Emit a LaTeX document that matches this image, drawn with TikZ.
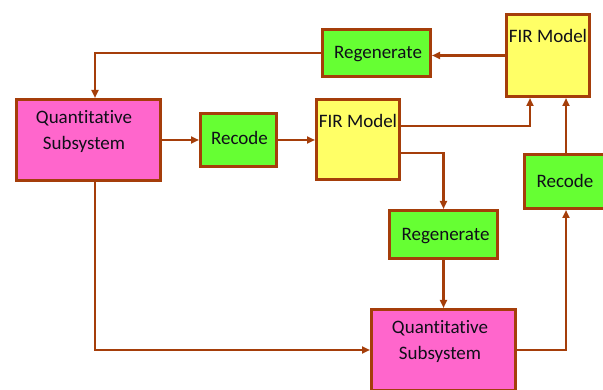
\documentclass[tikz,border=0pt]{standalone}
\usepackage{fontspec}
\setmainfont{Carlito}[Ligatures={NoCommon}]
\usetikzlibrary{arrows.meta}
\definecolor{brn}{RGB}{165,62,10}
\definecolor{pinkf}{RGB}{255,102,204}
\definecolor{greenf}{RGB}{102,255,51}
\definecolor{yellowf}{RGB}{255,255,102}
\definecolor{txt}{RGB}{15,15,25}
\tikzset{
  box/.style={draw=brn, line width=3pt, rectangle, inner sep=0pt},
  qsbox/.style={box, fill=pinkf},
  grbox/.style={box, fill=greenf},
  ylbox/.style={box, fill=yellowf},
  lbl/.style={text=txt, font=\fontsize{19}{26}\selectfont, align=center, inner sep=0pt},
  conn/.style={draw=brn, line width=2.2pt, -{Triangle[length=8pt,width=7pt]}}
}
\begin{document}
\begin{tikzpicture}[x=1pt,y=-1pt]
\useasboundingbox (0,0) rectangle (603,390);
% boxes
\node[qsbox, minimum width=144pt, minimum height=81pt] (qs1) at (88.5,140) {};
\node[grbox, minimum width=76pt, minimum height=53pt] (rec1) at (238.5,140) {};
\node[ylbox, minimum width=83pt, minimum height=80pt] (fir1) at (358,139.5) {};
\node[grbox, minimum width=108pt, minimum height=47pt] (regen1) at (376.5,53) {};
\node[ylbox, minimum width=83pt, minimum height=82pt] (fir2) at (548,55.5) {};
\node[grbox, minimum width=84pt, minimum height=54pt] (rec2) at (566,181.5) {};
\node[grbox, minimum width=108pt, minimum height=48pt] (regen2) at (443.5,234.5) {};
\node[qsbox, minimum width=144pt, minimum height=81pt] (qs2) at (443.5,350) {};
% labels
\node[lbl] (t-qs1) at (84,131) {Quantitative\\Subsystem};
\node[lbl] (t-rec1) at (239.5,138) {Recode};
\node[lbl] (t-fir1) at (358,121) {FIR Model};
\node[lbl] (t-regen1) at (378,54) {Regenerate};
\node[lbl] (t-fir2) at (548,36) {FIR Model};
\node[lbl] (t-rec2) at (565,181) {Recode};
\node[lbl] (t-regen2) at (445.5,236) {Regenerate};
\node[lbl] (t-qs2) at (440,341) {Quantitative\\Subsystem};
% connectors
\draw[conn] (regen1.west) -| ([xshift=6.5pt]qs1.north);
\draw[conn] (qs1.east) -- (rec1.west);
\draw[conn] (rec1.east) -- (rec1.east -| fir1.west);
\draw[conn] ([yshift=13.5pt]fir1.east) -| ([xshift=-18pt]fir2.south);
\draw[conn] ([yshift=-13.5pt]fir1.east) -| (regen2.north);
\draw[conn] (regen2.south) -- (qs2.north);
\draw[conn] ([xshift=6.5pt]qs1.south) |- (qs2.west);
\draw[conn] (qs2.east) -| (rec2.south);
\draw[conn] (rec2.north) -- (rec2.north |- fir2.south);
\draw[conn] (fir2.west) -- (fir2.west -| regen1.east);
\end{tikzpicture}
\end{document}
